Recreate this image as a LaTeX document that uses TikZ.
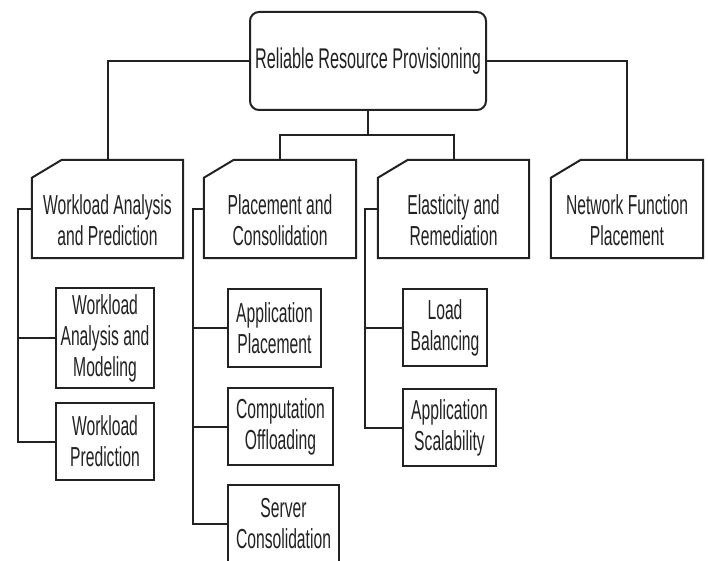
\documentclass[tikz,border=0pt]{standalone}
\usepackage{fontspec}
\setmainfont[FakeStretch=0.57]{Liberation Sans}
\usetikzlibrary{calc}
\definecolor{ink}{HTML}{222222}
\begin{document}
\begin{tikzpicture}[x=1pt,y=-1pt,
  txt/.style={font=\fontsize{27.5}{31}\selectfont, text=ink, align=center, inner sep=0pt},
  conn/.style={draw=ink, line width=2pt},
  rootbox/.style={txt, draw=ink, line width=2pt, rounded corners=9pt, minimum width=236pt, minimum height=98pt, font=\fontsize{28.5}{31}\selectfont},
  cardbox/.style={inner sep=0pt, minimum height=98pt},
  outline/.style={draw=ink, line width=2pt},
  leaf/.style={txt, draw=ink, line width=2pt}
]
\useasboundingbox (0,0) rectangle (708,561);
\clip (0,0) rectangle (708,561);

% root
\node[rootbox] (root) at (368,61) {Reliable Resource Provisioning};

% cards
\node[cardbox, minimum width=151pt] (c1) at (107.5,209) {};
\node[cardbox, minimum width=152pt] (c2) at (280,209) {};
\node[cardbox, minimum width=151pt] (c3) at (453.5,209) {};
\node[cardbox, minimum width=152pt] (c4) at (627,209) {};
\foreach \c in {c1,c2,c3,c4}
  \draw[outline] ([yshift=-18pt]\c.north west) -- ([xshift=30pt]\c.north west)
     -- (\c.north east) -- (\c.south east) -- (\c.south west) -- cycle;
\node[txt] (t1) at (107.5,220) {Workload Analysis\\and Prediction};
\node[txt] (t2) at (280,220) {Placement and\\Consolidation};
\node[txt] (t3) at (453.5,220) {Elasticity and\\Remediation};
\node[txt] (t4) at (627,220) {Network Function\\Placement};

% leaves
\node[leaf, minimum width=98pt, minimum height=100pt] (wam) at (105,338) {Workload\\Analysis and\\Modeling};
\node[leaf, minimum width=98pt, minimum height=77pt] (wp) at (105,441.5) {Workload\\Prediction};
\node[leaf, minimum width=93pt, minimum height=78pt] (ap) at (274.5,328) {Application\\Placement};
\node[leaf, minimum width=105pt, minimum height=77pt] (co) at (280.5,426.5) {Computation\\Offloading};
\node[leaf, minimum width=111pt, minimum height=78pt] (sc) at (283.5,524) {Server\\Consolidation};
\node[leaf, minimum width=84pt, minimum height=77pt] (lb) at (445,327.5) {Load\\Balancing};
\node[leaf, minimum width=93pt, minimum height=77pt] (as) at (449.5,427.5) {Application\\Scalability};

% top connectors
\coordinate (j) at (368,135);
\draw[conn] (root.west) -| (c1.north);
\draw[conn] (root.east) -| (c4.north);
\draw[conn] (root.south) -- (j);
\draw[conn] (c2.north) |- (j) -| (c3.north);

% trunks
\coordinate (k1) at (18,0);
\coordinate (k2) at (193,0);
\coordinate (k3) at (365,0);
\draw[conn] (c1.west) -| (k1 |- wp.west) -- (wp.west);
\draw[conn] (wam.west) -- (wam.west -| k1);
\draw[conn] (c2.west) -| (k2 |- sc.west) -- (sc.west);
\draw[conn] (ap.west) -- (ap.west -| k2);
\draw[conn] (co.west) -- (co.west -| k2);
\draw[conn] (c3.west) -| (k3 |- as.west) -- (as.west);
\draw[conn] (lb.west) -- (lb.west -| k3);
\end{tikzpicture}
\end{document}
